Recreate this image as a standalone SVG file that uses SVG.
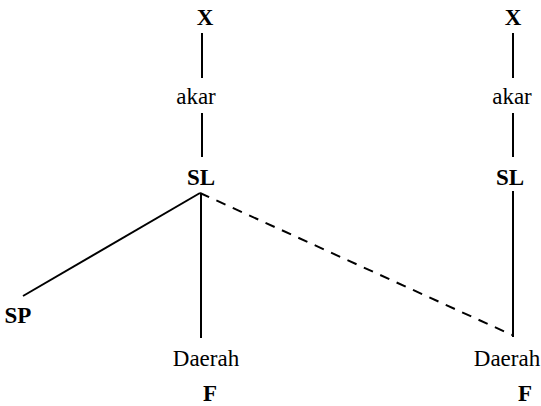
<svg xmlns="http://www.w3.org/2000/svg" width="541" height="406" viewBox="0 0 541 406">
<style>
.l{stroke:#000;stroke-width:2;fill:none}
.d{stroke-dasharray:10,8}
</style>
<rect width="541" height="406" fill="#fff"/>
<g id="connectors">
<line class="l" x1="202" y1="33" x2="202" y2="78"/>
<line class="l" x1="202" y1="113" x2="202" y2="157"/>
<line class="l" x1="200" y1="193" x2="23" y2="296"/>
<line class="l" x1="201" y1="193" x2="201" y2="338"/>
<line class="l d" x1="200" y1="193" x2="512" y2="335"/>
<line class="l" x1="513" y1="33" x2="513" y2="78"/>
<line class="l" x1="513" y1="113" x2="513" y2="157"/>
<line class="l" x1="513" y1="191" x2="513" y2="337"/>
</g>
<g font-family="Liberation Serif, serif" font-size="23" fill="#000" text-anchor="middle">
<g id="X1"><text font-weight="bold" x="205" y="25">X</text></g>
<g id="akar1"><text x="196" y="104">akar</text></g>
<g id="SL1"><text font-weight="bold" x="201" y="185">SL</text></g>
<g id="SP"><text font-weight="bold" x="18" y="323">SP</text></g>
<g id="Daerah1"><text x="206" y="366">Daerah</text></g>
<g id="F1"><text font-weight="bold" x="210" y="401">F</text></g>
<g id="X2"><text font-weight="bold" x="513" y="25">X</text></g>
<g id="akar2"><text x="512" y="104">akar</text></g>
<g id="SL2"><text font-weight="bold" x="510" y="185">SL</text></g>
<g id="Daerah2"><text x="507" y="366">Daerah</text></g>
<g id="F2"><text font-weight="bold" x="525" y="401">F</text></g>
</g>
</svg>
